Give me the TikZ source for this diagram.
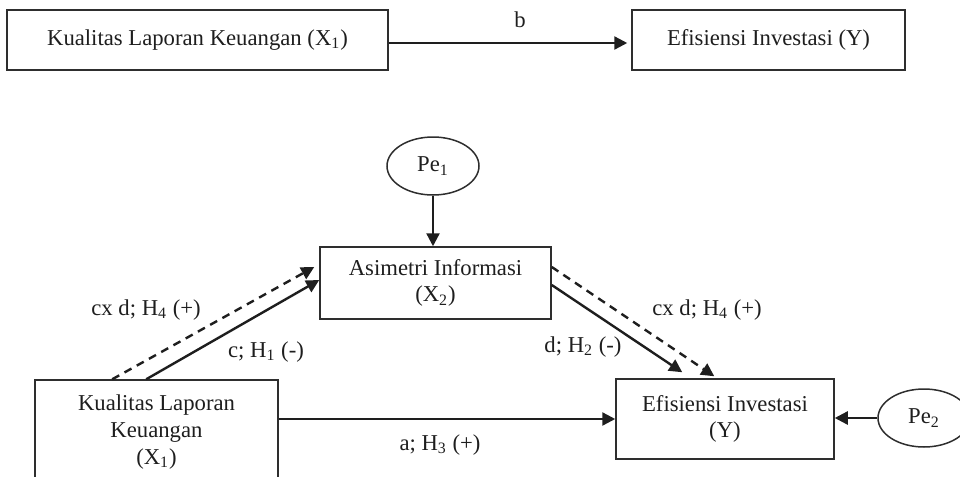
\documentclass[tikz,border=0pt]{standalone}
\usepackage{fontspec}
\setmainfont{Liberation Serif}
\usetikzlibrary{arrows.meta,shapes.geometric}
\definecolor{ink}{HTML}{1E1E1E}
\definecolor{edge}{HTML}{2E2E2E}
\tikzset{
  box/.style={draw=edge, line width=0.75pt, rectangle, inner sep=0pt, align=center, text=ink},
  oval/.style={draw=edge, line width=0.75pt, ellipse, inner sep=0pt, text=ink},
  arr/.style={draw=ink, line width=1.2pt, -{Triangle[length=6.5pt,width=6.5pt]}},
  dasharr/.style={arr, dash pattern=on 4pt off 3pt},
  lab/.style={text=ink, inner sep=0pt},
}
\begin{document}
\begin{tikzpicture}[x=0.5pt, y=-0.5pt, font=\fontsize{11.35pt}{13.4pt}\selectfont]
\useasboundingbox (0,0) rectangle (960,477);
\clip (0,0) rectangle (960,477);
% top row
\node[box, minimum width=190.5pt, minimum height=30pt] (t1) at (197.5,40) {Kualitas Laporan Keuangan (X\textsubscript{1})};
\node[box, minimum width=136.5pt, minimum height=30pt] (t2) at (768.5,40) {Efisiensi Investasi (Y)};
\draw[arr] ([yshift=-1.5pt]t1.east) -- ([xshift=-2pt,yshift=-1.5pt]t2.west);
\node[lab] (lb) at (520,20) {b};
% bottom model
\node[oval, minimum width=46pt, minimum height=29pt] (pe1) at (433,166) {Pe\textsubscript{1}};
\node[box, minimum width=115.5pt, minimum height=36pt] (ai) at (435.5,283) {Asimetri Informasi\\(X\textsubscript{2})};
\node[box, minimum width=121.5pt, minimum height=52pt] (kl) at (156.5,432) {Kualitas Laporan\\Keuangan\\(X\textsubscript{1})};
\node[box, minimum width=109pt, minimum height=40pt] (ef) at (725,419) {Efisiensi Investasi\\(Y)};
\node[oval, minimum width=46pt, minimum height=29pt] (pe2) at (924,418) {Pe\textsubscript{2}};
% connectors
\draw[arr] (pe1.south) -- (pe1.south |- ai.north);
\draw[arr] ([xshift=56pt]kl.north west) -- ([yshift=1.5pt]ai.west);
\draw[dasharr] ([xshift=39pt]kl.north west) -- ([xshift=-2.5pt,yshift=8pt]ai.west);
\draw[arr] ([yshift=-1pt]ai.east) -- ([xshift=33.5pt,yshift=3pt]ef.north west);
\draw[dasharr] ([yshift=8pt]ai.east) -- ([xshift=49.5pt,yshift=1pt]ef.north west);
\draw[arr] (kl.east |- ef.west) -- (ef.west);
\draw[arr] (pe2.west) -- (pe2.west -| ef.east);
% labels
\node[lab] (l1) at (146,310) {cx d; H\textsubscript{4} (+)};
\node[lab] (l2) at (266,352) {c; H\textsubscript{1} (-)};
\node[lab] (l3) at (440,445) {a; H\textsubscript{3} (+)};
\node[lab] (l4) at (583,347) {d; H\textsubscript{2} (-)};
\node[lab] (l5) at (707,310) {cx d; H\textsubscript{4} (+)};
\end{tikzpicture}
\end{document}
